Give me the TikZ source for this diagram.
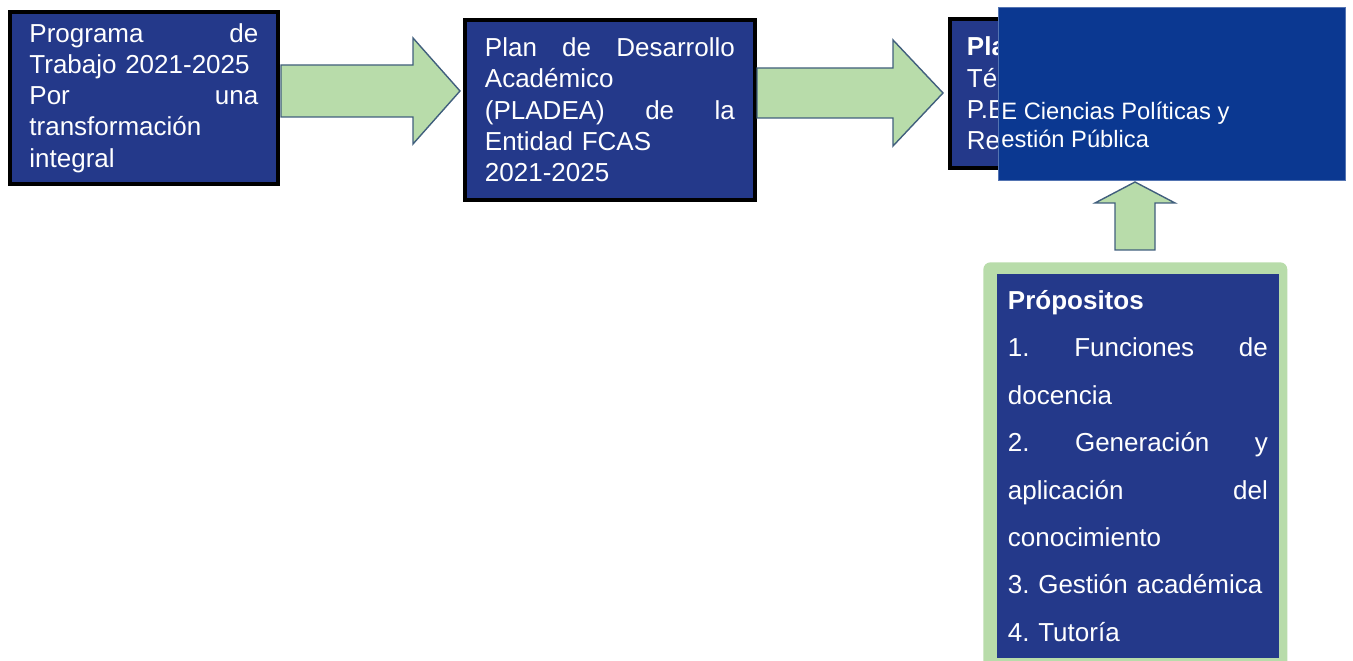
\documentclass[tikz,border=0pt]{standalone}
\usepackage{fontspec}
\setmainfont{Liberation Sans}
\frenchspacing
\definecolor{azulcaja}{RGB}{36,57,138}
\definecolor{azultapa}{RGB}{11,56,145}
\definecolor{verdeflecha}{RGB}{184,220,170}
\definecolor{bordeflecha}{RGB}{65,95,125}
\tikzset{
  caja/.style={draw=black, line width=2.2pt, fill=azulcaja, text=white, anchor=north west,
    inner sep=0pt, align=left, font=\fontsize{14.8}{17.8}\selectfont},
  flecha/.style={fill=verdeflecha, draw=bordeflecha, line width=0.8pt, line join=miter}
}
\begin{document}
\begin{tikzpicture}[x=0.02cm, y=-0.02cm]
            \useasboundingbox (0,0) rectangle (1353,661);
            \node[caja, minimum width=5.36cm, minimum height=3.44cm, text width=4.58cm] (prog) at (8,10)
              {Programa\hfill de\\Trabajo 2021-2025\\Por\hfill una\\transformación\\integral};
            \node[caja, minimum width=5.8cm, minimum height=3.6cm, text width=5.0cm] (pladea) at (463,18)
              {Plan\hfill de\hfill Desarrollo\\Académico\\(PLADEA)\hfill de\hfill la\\Entidad FCAS\\2021-2025};
            \node[caja, minimum width=4.04cm, minimum height=2.98cm, text width=3.36cm] (plan) at (948,17)
              {\textbf{Pla}\\Téc\\P.E\\Re};
            \node[fill=azultapa, draw=azultapa!70!white, line width=0.4pt, anchor=north west,
              minimum width=6.94cm, minimum height=3.46cm, inner sep=0pt] (tapa) at (998,7) {};
            \node[text=white, anchor=west, inner sep=0pt, align=left,
              font=\fontsize{13.5}{15.6}\selectfont] (carrera) at (1001,125)
              {E Ciencias Políticas y\\estión Pública};
            \node[fill=verdeflecha, rounded corners=4pt, anchor=north west, inner sep=0pt,
              minimum width=6.08cm, minimum height=8.3cm] (marco) at (983,262) {};
            \node[caja, draw=none, minimum width=5.64cm, minimum height=7.68cm, text width=5.2cm,
              font=\fontsize{14.8}{27}\selectfont] (propositos) at (995,272)
              {\textbf{Própositos}\\1.\hfill Funciones\hfill de\\docencia\\2.\hfill Generación\hfill y\\aplicación\hfill del\\conocimiento\\3. Gestión académica\\4. Tutoría};
            \coordinate (f1) at (281,91);
            \coordinate (f2) at (757,93);
            \coordinate (f3) at (1135,250);
            \draw[flecha] (f1) ++(0,-26) -- ++(132,0) -- ++(0,-27) -- ++(47,53)
              -- ++(-47,53) -- ++(0,-27) -- ++(-132,0) -- cycle;
            \draw[flecha] (f2) ++(0,-25) -- ++(136,0) -- ++(0,-28) -- ++(50,53)
              -- ++(-50,53) -- ++(0,-28) -- ++(-136,0) -- cycle;
            \draw[flecha] (f3) ++(-20,0) -- ++(0,-47) -- ++(-20,0) -- ++(40,-21)
              -- ++(40,21) -- ++(-20,0) -- ++(0,47) -- cycle;
        \end{tikzpicture}
\end{document}
